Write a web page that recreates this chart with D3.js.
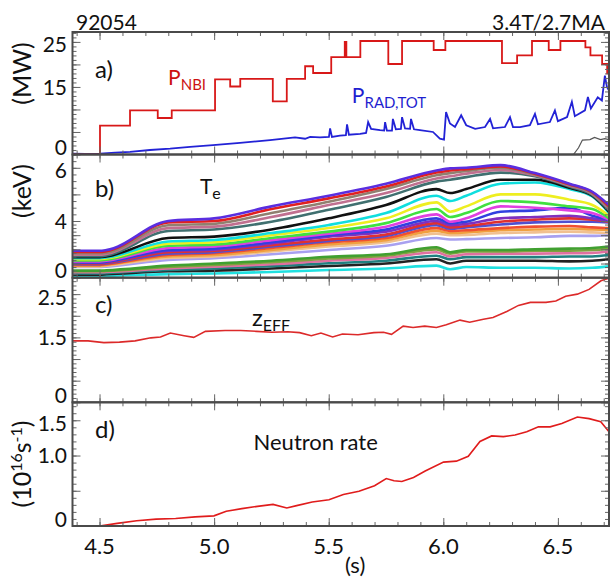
<!DOCTYPE html>
<html>
<head>
<meta charset="utf-8">
<script src="https://cdn.jsdelivr.net/npm/d3@7"></script>
<style>
  body { margin: 0; background: #fff; }
  svg text { font-family: Lato, "DejaVu Sans", sans-serif; fill: #111; }
</style>
</head>
<body>
<div class="canvas"></div>
<script>
// ---- data ----
const xTickValues = [4.5, 5.0, 5.5, 6.0, 6.5];

// a) NBI power, step changes (s, MW)
const nbiTime  = [4.382, 4.502, 4.633, 4.754, 4.815, 5.004, 5.070, 5.114, 5.256, 5.317, 5.397, 5.432, 5.511,
                  5.570, 5.577, 5.638, 5.760, 5.820, 5.958, 6.009, 6.256, 6.322, 6.387, 6.460, 6.511, 6.620,
                  6.642, 6.693, 6.715, 6.723];
const nbiPower = [0, 6.4, 9.8, 8.1, 9.8, 16.7, 15.1, 16.8, 11.8, 16.8, 19.6, 18.1, 21.6,
                  25.0, 21.6, 25.2, 20.1, 25.2, 23.2, 25.2, 20.3, 22.0, 25.2, 23.2, 25.2, 23.8,
                  22.0, 20.1, 18.0, 18.0];

// a) total radiated power (s, MW)
const radTime  = [4.382, 4.437, 4.502, 4.568, 4.633, 4.720, 4.808, 4.895, 4.995, 5.113, 5.244, 5.353, 5.397,
                  5.419, 5.462, 5.501, 5.506, 5.514, 5.549, 5.575, 5.580, 5.588, 5.637, 5.663, 5.672, 5.685,
                  5.724, 5.742, 5.746, 5.754, 5.776, 5.780, 5.793, 5.815, 5.820, 5.833, 5.855, 5.859, 5.872,
                  5.898, 5.955, 5.985, 6.003, 6.012, 6.029, 6.051, 6.078, 6.100, 6.139, 6.182, 6.204, 6.217,
                  6.269, 6.291, 6.304, 6.335, 6.378, 6.400, 6.413, 6.465, 6.487, 6.500, 6.540, 6.561, 6.574,
                  6.618, 6.631, 6.644, 6.674, 6.692, 6.705, 6.714, 6.723];
const radPower = [0.2, 0.15, 0.2, 0.4, 0.6, 1.0, 1.3, 1.7, 2.1, 2.6, 3.2, 3.8, 3.5,
                  3.9, 3.8, 3.9, 5.8, 3.9, 4.2, 4.3, 6.7, 4.4, 4.6, 4.8, 7.2, 5.7,
                  5.4, 5.3, 7.2, 5.3, 5.3, 7.9, 5.6, 5.7, 8.3, 5.8, 5.7, 7.9, 5.6,
                  5.4, 5.0, 3.5, 3.3, 9.4, 6.9, 6.1, 8.7, 6.5, 5.7, 6.1, 7.9, 5.8,
                  6.1, 8.3, 6.1, 6.1, 6.5, 9.0, 6.7, 7.2, 9.8, 7.4, 8.3, 11.7, 8.5,
                  9.8, 12.8, 10.2, 12.7, 12.0, 17.5, 15.0, 14.2];

// a) grey trace at the end (s, MW)
const greyTime  = [6.550, 6.568, 6.590, 6.607, 6.640, 6.660, 6.686, 6.705, 6.723];
const greyPower = [0, 0, 1.5, 3.2, 3.3, 3.8, 3.3, 3.5, 3.3];

// b) electron temperature channels (keV) at these times
const teTime = [4.382, 4.50, 4.53, 4.80, 5.00, 5.25, 5.50, 5.75, 5.97, 6.03, 6.10, 6.25, 6.40, 6.55, 6.65, 6.723];
const teColors = ['#5a2ee0', '#e02020', '#908070', '#c07090', '#407070', '#111111', '#10dede', '#eeee20',
                  '#40e040', '#e040e0', '#3040e0', '#8030c0', '#e03030', '#5050d0', '#f05030', '#f0a040',
                  '#f0c090', '#a8a0f0', '#40a030', '#80a040', '#e070a0', '#208080', '#222222', '#20e0e0'];
const teValues = [
  [1.90, 1.90, 1.95, 4.00, 4.10, 4.55, 4.95, 5.40, 5.90, 5.98, 6.00, 6.10, 5.80, 5.40, 5.10, 4.60],
  [1.82, 1.82, 1.87, 3.90, 4.00, 4.45, 4.85, 5.30, 5.82, 5.90, 5.95, 6.05, 5.78, 5.38, 5.08, 4.55],
  [1.72, 1.72, 1.77, 3.70, 3.80, 4.30, 4.72, 5.20, 5.72, 5.80, 5.88, 6.00, 5.75, 5.36, 5.05, 4.50],
  [1.62, 1.62, 1.67, 3.50, 3.60, 4.15, 4.60, 5.05, 5.60, 5.68, 5.78, 5.92, 5.72, 5.33, 5.02, 4.45],
  [1.52, 1.52, 1.57, 3.30, 3.40, 3.95, 4.42, 4.90, 5.48, 5.55, 5.65, 5.82, 5.68, 5.30, 4.98, 4.40],
  [1.45, 1.45, 1.50, 2.80, 2.90, 3.40, 4.10, 4.60, 5.20, 5.05, 5.20, 5.55, 5.55, 5.25, 4.95, 4.35],
  [1.38, 1.38, 1.42, 2.55, 2.66, 3.15, 3.72, 4.30, 4.95, 4.75, 4.95, 5.40, 5.45, 5.20, 4.92, 4.30],
  [1.30, 1.30, 1.35, 2.40, 2.50, 3.00, 3.50, 4.10, 4.70, 4.35, 4.55, 5.00, 5.00, 4.80, 4.60, 4.20],
  [1.22, 1.22, 1.27, 2.25, 2.33, 2.80, 3.25, 3.85, 4.45, 4.15, 4.30, 4.75, 4.70, 4.55, 4.45, 4.10],
  [1.15, 1.15, 1.20, 2.10, 2.20, 2.65, 3.10, 3.60, 4.25, 3.95, 4.10, 4.55, 4.50, 4.40, 4.30, 4.05],
  [1.08, 1.08, 1.13, 1.95, 2.05, 2.50, 3.00, 3.40, 4.10, 3.85, 3.95, 4.35, 4.40, 4.50, 4.20, 4.05],
  [1.05, 1.05, 1.10, 1.90, 1.98, 2.42, 2.90, 3.25, 4.00, 3.70, 3.80, 4.10, 4.15, 4.20, 4.10, 4.00],
  [1.00, 1.00, 1.05, 1.80, 1.90, 2.30, 2.70, 3.05, 3.85, 3.55, 3.65, 3.95, 4.05, 4.10, 4.05, 3.95],
  [0.95, 0.95, 1.00, 1.70, 1.80, 2.20, 2.60, 2.95, 3.70, 3.45, 3.55, 3.75, 3.90, 3.95, 3.95, 3.90],
  [0.90, 0.90, 0.95, 1.60, 1.72, 2.10, 2.50, 2.80, 3.50, 3.30, 3.35, 3.50, 3.60, 3.65, 3.55, 3.50],
  [0.85, 0.85, 0.90, 1.50, 1.60, 1.95, 2.35, 2.65, 3.30, 3.15, 3.20, 3.35, 3.40, 3.45, 3.40, 3.37],
  [0.80, 0.80, 0.85, 1.40, 1.50, 1.85, 2.20, 2.50, 3.10, 3.00, 3.02, 3.15, 3.20, 3.25, 3.20, 3.15],
  [0.75, 0.75, 0.78, 1.25, 1.37, 1.65, 1.95, 2.25, 2.80, 2.70, 2.72, 2.80, 2.85, 2.95, 2.95, 3.00],
  [0.50, 0.50, 0.52, 0.85, 1.00, 1.20, 1.48, 1.65, 2.15, 1.80, 1.95, 1.95, 2.00, 2.05, 2.10, 2.20],
  [0.45, 0.45, 0.47, 0.75, 0.90, 1.10, 1.35, 1.55, 2.00, 1.70, 1.85, 1.85, 1.90, 1.90, 1.95, 2.05],
  [0.38, 0.38, 0.40, 0.65, 0.78, 0.95, 1.20, 1.40, 1.80, 1.50, 1.65, 1.70, 1.70, 1.72, 1.75, 1.85],
  [0.30, 0.30, 0.32, 0.55, 0.65, 0.82, 1.02, 1.20, 1.55, 1.30, 1.45, 1.45, 1.45, 1.50, 1.50, 1.60],
  [0.22, 0.22, 0.24, 0.45, 0.50, 0.65, 0.83, 1.00, 1.30, 1.00, 1.20, 1.20, 1.20, 1.15, 1.20, 1.30],
  [0.10, 0.10, 0.12, 0.25, 0.30, 0.40, 0.54, 0.65, 0.85, 0.60, 0.75, 0.70, 0.70, 0.65, 0.70, 0.80]
];

// c) Zeff
const zeffTime  = [4.382, 4.450, 4.519, 4.587, 4.655, 4.724, 4.766, 4.809, 4.869, 4.911, 4.962, 5.048, 5.116,
                   5.185, 5.253, 5.321, 5.373, 5.424, 5.466, 5.517, 5.560, 5.628, 5.697, 5.739, 5.774, 5.825,
                   5.868, 5.919, 5.970, 6.013, 6.073, 6.115, 6.175, 6.217, 6.277, 6.328, 6.380, 6.448, 6.491,
                   6.534, 6.585, 6.636, 6.688, 6.723];
const zeffValue = [1.42, 1.42, 1.38, 1.39, 1.42, 1.49, 1.51, 1.60, 1.54, 1.50, 1.64, 1.66, 1.66,
                   1.64, 1.62, 1.63, 1.61, 1.54, 1.60, 1.51, 1.58, 1.56, 1.61, 1.62, 1.57, 1.76,
                   1.73, 1.76, 1.73, 1.79, 1.90, 1.85, 1.92, 1.96, 2.10, 2.24, 2.31, 2.31, 2.34,
                   2.45, 2.50, 2.61, 2.81, 2.87];

// d) neutron rate (1e16 /s)
const neutTime  = [4.382, 4.500, 4.577, 4.662, 4.747, 4.832, 4.917, 4.999, 5.053, 5.121, 5.189, 5.257, 5.317,
                   5.360, 5.428, 5.501, 5.564, 5.632, 5.700, 5.751, 5.785, 5.819, 5.870, 5.921, 6.001, 6.057,
                   6.109, 6.160, 6.211, 6.262, 6.313, 6.364, 6.415, 6.466, 6.517, 6.585, 6.636, 6.687, 6.723];
const neutValue = [0, 0, 0.037, 0.075, 0.098, 0.107, 0.13, 0.144, 0.209, 0.246, 0.279, 0.307, 0.256,
                   0.289, 0.34, 0.372, 0.446, 0.492, 0.572, 0.674, 0.641, 0.632, 0.688, 0.781, 0.906, 0.92,
                   0.99, 1.199, 1.278, 1.268, 1.291, 1.337, 1.407, 1.407, 1.453, 1.547, 1.523, 1.48, 1.337];

// ---- layout ----
const W = 611, H = 579;
const x0 = 72.5, x1 = 609;

const svg = d3.select('.canvas')
  .append('svg')
  .attr('width', W)
  .attr('height', H);

const x = d3.scaleLinear().domain([4.382, 6.723]).range([x0, x1]);

const panels = [
  { id: 'a', top: 32, bottom: 154.5, domain: [0, 27.2],
    minor: d3.range(0, 27.1, 1), major: d3.range(0, 25.1, 5),
    labels: [25, 15, 0], fmt: d3.format('d'), tag: 'a)', tagY: 46 },
  { id: 'b', top: 154.5, bottom: 277.7, domain: [0, 4, 6.5],
    minor: d3.range(0, 6.51, 0.25), major: d3.range(0, 6.1, 1),
    labels: [6, 4, 0], fmt: d3.format('d'), tag: 'b)', tagY: 42.5 },
  { id: 'c', top: 277.7, bottom: 402.3, domain: [0, 2.88],
    minor: d3.range(0, 2.85, 0.1), major: d3.range(0, 2.6, 0.5),
    labels: [2.5, 1.5, 0], fmt: v => v === 0 ? '0' : d3.format('.1f')(v), tag: 'c)', tagY: 35.5 },
  { id: 'd', top: 402.3, bottom: 526, domain: [0, 1.755],
    minor: d3.range(0, 1.75, 0.1), major: d3.range(0, 1.6, 0.5),
    labels: [1.5, 1.0, 0], fmt: v => v === 0 ? '0' : d3.format('.1f')(v), tag: 'd)', tagY: 36 }
];

panels.forEach(p => {
  if (p.domain.length === 3) {
    // the Te axis labels are not evenly spaced in the original, so use a piecewise scale
    p.y = d3.scaleLinear().domain(p.domain).range([p.bottom, 221, 221 - 26.6 * 2.5]);
  } else {
    p.y = d3.scaleLinear().domain(p.domain).range([p.bottom, p.top]);
  }
  svg.append('clipPath').attr('id', 'clip-' + p.id)
    .append('rect')
    .attr('x', x0).attr('y', p.top)
    .attr('width', x1 - x0).attr('height', p.bottom - p.top);
});

const [pa, pb, pc, pd] = panels;

// ---- data lines ----
const lineOf = (y, curve) => d3.line()
  .x(d => x(d[0]))
  .y(d => y(d[1]))
  .curve(curve || d3.curveLinear);

const zip = (a, b) => a.map((v, i) => [v, b[i]]);

// panel a
const ga = svg.append('g').attr('clip-path', 'url(#clip-a)');
ga.append('path')
  .attr('d', lineOf(pa.y)(zip(greyTime, greyPower)))
  .attr('fill', 'none').attr('stroke', '#555').attr('stroke-width', 1.2);
ga.append('path')
  .attr('d', lineOf(pa.y)(zip(radTime, radPower)))
  .attr('fill', 'none').attr('stroke', '#2222d6').attr('stroke-width', 1.8);
ga.append('path')
  .attr('d', lineOf(pa.y, d3.curveStepAfter)(zip(nbiTime, nbiPower)))
  .attr('fill', 'none').attr('stroke', '#d81818').attr('stroke-width', 1.8);

// panel b: draw from the lowest channel up so the top one sits on top
const gb = svg.append('g').attr('clip-path', 'url(#clip-b)');
gb.selectAll('.te')
  .data(teValues.map((vals, i) => ({ vals, color: teColors[i] })).reverse())
  .enter()
  .append('path')
  .attr('class', 'te')
  .attr('d', d => lineOf(pb.y, d3.curveMonotoneX)(zip(teTime, d.vals)))
  .attr('fill', 'none')
  .attr('stroke', d => d.color)
  .attr('stroke-width', 2.6)
  .attr('stroke-linejoin', 'round');

// panel c
svg.append('g').attr('clip-path', 'url(#clip-c)')
  .append('path')
  .attr('d', lineOf(pc.y)(zip(zeffTime, zeffValue)))
  .attr('fill', 'none').attr('stroke', '#dc2a2a').attr('stroke-width', 1.6);

// panel d
svg.append('g').attr('clip-path', 'url(#clip-d)')
  .append('path')
  .attr('d', lineOf(pd.y)(zip(neutTime, neutValue)))
  .attr('fill', 'none').attr('stroke', '#e01c1c').attr('stroke-width', 1.6);

// ---- frames and ticks ----
const xMinor = d3.range(4.4, 6.72, 0.1);

const tickGroup = (axis, tx, ty) => {
  const g = svg.append('g').attr('transform', `translate(${tx},${ty})`).call(axis);
  g.select('.domain').remove();
  g.selectAll('line').attr('stroke', '#666').attr('stroke-width', 1);
  return g;
};

panels.forEach(p => {
  // y ticks both sides, pointing in
  tickGroup(d3.axisRight(p.y).tickValues(p.minor).tickSize(4).tickFormat(''), x0, 0);
  tickGroup(d3.axisRight(p.y).tickValues(p.major).tickSize(8).tickFormat(''), x0, 0);
  tickGroup(d3.axisLeft(p.y).tickValues(p.minor).tickSize(4).tickFormat(''), x1, 0);
  tickGroup(d3.axisLeft(p.y).tickValues(p.major).tickSize(8).tickFormat(''), x1, 0);
  // x ticks top and bottom
  tickGroup(d3.axisBottom(x).tickValues(xMinor).tickSize(4).tickFormat(''), 0, p.top);
  tickGroup(d3.axisBottom(x).tickValues(xTickValues).tickSize(8).tickFormat(''), 0, p.top);
  tickGroup(d3.axisTop(x).tickValues(xMinor).tickSize(4).tickFormat(''), 0, p.bottom);
  tickGroup(d3.axisTop(x).tickValues(xTickValues).tickSize(8).tickFormat(''), 0, p.bottom);

  svg.append('rect')
    .attr('x', x0).attr('y', p.top)
    .attr('width', x1 - x0).attr('height', p.bottom - p.top)
    .attr('fill', 'none').attr('stroke', '#4a4a4a').attr('stroke-width', 2);

  // y tick labels (zero sits a little above its tick, the top one a little below)
  svg.selectAll('.lab-' + p.id)
    .data(p.labels)
    .enter()
    .append('text')
    .attr('class', 'lab-' + p.id)
    .attr('x', 67)
    .attr('y', (d, i) => p.y(d) + (d === 0 ? -7 : (i === 0 ? 3 : 0)))
    .attr('dy', '0.36em')
    .attr('text-anchor', 'end')
    .style('font-size', '21px')
    .text(p.fmt);

  // panel tag
  svg.append('text')
    .attr('x', 95).attr('y', p.top + p.tagY)
    .style('font-size', '24px')
    .text(p.tag);
});

// ---- x tick labels ----
svg.selectAll('.xlab')
  .data(xTickValues)
  .enter()
  .append('text')
  .attr('class', 'xlab')
  .attr('x', d => x(d))
  .attr('y', 554)
  .attr('text-anchor', 'middle')
  .style('font-size', '22px')
  .text(d3.format('.1f'));

svg.append('text')
  .attr('x', x(5.615)).attr('y', 573)
  .attr('text-anchor', 'middle')
  .style('font-size', '22px')
  .text('(s)');

// ---- header ----
svg.append('text').attr('x', 76).attr('y', 30).style('font-size', '21px').text('92054');
svg.append('text').attr('x', 605).attr('y', 30).attr('text-anchor', 'end').style('font-size', '21px').text('3.4T/2.7MA');

// ---- y titles ----
svg.append('text')
  .attr('transform', 'translate(31,73.5) rotate(-90)')
  .attr('text-anchor', 'middle')
  .style('font-size', '25px')
  .text('(MW)');
svg.append('text')
  .attr('transform', 'translate(31,191) rotate(-90)')
  .attr('text-anchor', 'middle')
  .style('font-size', '25px')
  .text('(keV)');
const nt = svg.append('text')
  .attr('transform', 'translate(31,464) rotate(-90)')
  .attr('text-anchor', 'middle')
  .style('font-size', '25px');
nt.append('tspan').text('(10');
nt.append('tspan').attr('dy', -9).style('font-size', '16px').text('16');
nt.append('tspan').attr('dy', 9).text('s');
nt.append('tspan').attr('dy', -9).style('font-size', '16px').text('-1');
nt.append('tspan').attr('dy', 9).text(')');

// ---- annotations ----
const label = (tx, ty, main, sub, color, mainSize, subSize) => {
  const t = svg.append('text').attr('x', tx).attr('y', ty).style('font-size', mainSize + 'px');
  if (color) t.style('fill', color);
  t.append('tspan').text(main);
  if (sub) t.append('tspan').attr('dy', 5).style('font-size', subSize + 'px').text(sub);
  return t;
};
label(x(4.799), pa.y(15.4), 'P', 'NBI', '#cc1111', 21, 15);
label(x(5.601), pa.y(11.4), 'P', 'RAD,TOT', '#1f1fd0', 21, 15);
label(x(4.938), pb.y(5.0), 'T', 'e', null, 21, 16);
label(x(5.165), pc.y(1.77), 'z', 'EFF', null, 24, 16);
label(x(5.172), pd.y(1.085), 'Neutron rate', null, null, 22, 0);
</script>
</body>
</html>
